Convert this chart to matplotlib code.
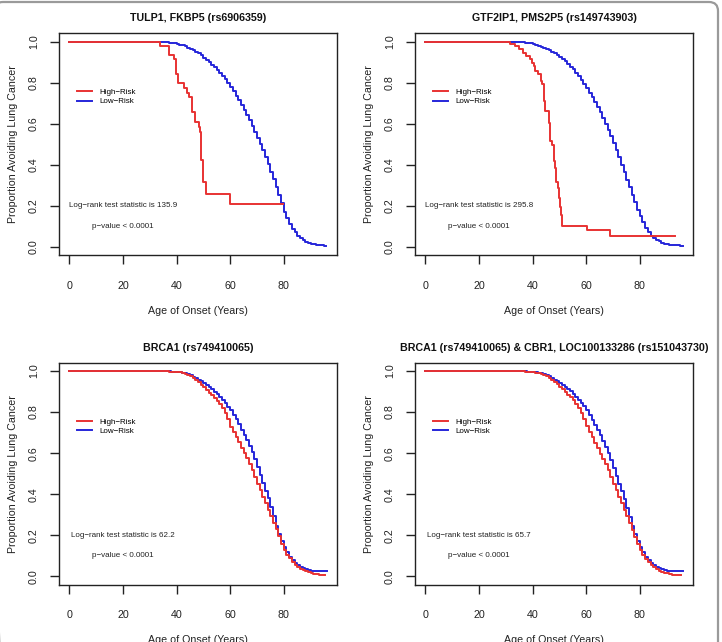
import matplotlib
matplotlib.use("Agg")
import matplotlib.pyplot as plt
from matplotlib.lines import Line2D
from matplotlib.patches import FancyBboxPatch

plt.rcParams['font.family'] = ['Liberation Sans', 'DejaVu Sans']

# ---------------- data ----------------
titles = [
    "TULP1, FKBP5 (rs6906359)",
    "GTF2IP1, PMS2P5 (rs149743903)",
    "BRCA1 (rs749410065)",
    "BRCA1 (rs749410065) & CBR1, LOC100133286 (rs151043730)",
]
logrank_stats = ["135.9", "295.8", "62.2", "65.7"]
series_labels = ["High\u2212Risk", "Low\u2212Risk"]
x_ticks = [0, 20, 40, 60, 80]
y_ticks = [0.0, 0.2, 0.4, 0.6, 0.8, 1.0]
y_ticklabels = ["0.0", "0.2", "0.4", "0.6", "0.8", "1.0"]

ages = list(range(35, 96))  # yearly ages for the large (smooth-looking) groups

# Panel 1 high-risk (step times / survival)
p1_high_t = [0, 34, 37, 38.9, 39.8, 40.6, 42.7, 43.75, 44.6, 45.7, 46.7, 48.2, 48.8, 49.1, 50, 50.8, 60]
p1_high_s = [1.0, 0.979, 0.933, 0.917, 0.844, 0.800, 0.775, 0.751, 0.731, 0.658, 0.609, 0.583, 0.559,
             0.425, 0.319, 0.259, 0.208]
p1_high_end = 79.6
p1_low_s = [0.998, 0.997, 0.995, 0.993, 0.991, 0.988, 0.985, 0.981, 0.976, 0.970,
            0.964, 0.957, 0.950, 0.942, 0.933, 0.922, 0.911, 0.899, 0.887, 0.875,
            0.862, 0.848, 0.832, 0.816, 0.798, 0.780, 0.758, 0.737, 0.715, 0.692,
            0.668, 0.643, 0.617, 0.590, 0.562, 0.533, 0.503, 0.470, 0.437, 0.403,
            0.367, 0.330, 0.292, 0.253, 0.213, 0.172, 0.140, 0.112, 0.090, 0.071,
            0.056, 0.044, 0.035, 0.027, 0.021, 0.017, 0.014, 0.012, 0.011, 0.010,
            0.006]
p1_low_end = 95.8

# Panel 2
p2_high_t = [0, 31.6, 33.5, 34.8, 36.6, 37.6, 39.1, 39.75, 40.4, 41.0, 42.2, 43.1, 43.5, 44.1, 44.7,
             46.0, 46.6, 47.2, 47.85, 48.5, 48.85, 49.35, 49.7, 50.1, 50.5, 50.9, 60.3, 68.8]
p2_high_s = [1.0, 0.990, 0.979, 0.963, 0.946, 0.930, 0.914, 0.897, 0.881, 0.857, 0.840, 0.808, 0.792,
             0.710, 0.661, 0.604, 0.515, 0.498, 0.417, 0.384, 0.319, 0.287, 0.238, 0.197, 0.156,
             0.103, 0.083, 0.055]
p2_high_end = 93.1
p2_low_s = [0.998, 0.997, 0.995, 0.994, 0.992, 0.989, 0.985, 0.980, 0.975, 0.969,
            0.963, 0.957, 0.951, 0.944, 0.935, 0.926, 0.915, 0.903, 0.892, 0.878,
            0.864, 0.848, 0.831, 0.813, 0.793, 0.773, 0.752, 0.730, 0.707, 0.683,
            0.658, 0.630, 0.601, 0.570, 0.539, 0.506, 0.472, 0.437, 0.401, 0.365,
            0.328, 0.291, 0.255, 0.218, 0.182, 0.150, 0.120, 0.094, 0.073, 0.056,
            0.044, 0.035, 0.028, 0.021, 0.016, 0.013, 0.011, 0.010, 0.009, 0.008,
            0.006]
p2_low_end = 96.0

# Panel 3
p3_high_s = [0.999, 0.998, 0.997, 0.996, 0.995, 0.994, 0.993, 0.990, 0.986, 0.981,
             0.974, 0.966, 0.956, 0.945, 0.933, 0.920, 0.908, 0.895, 0.882, 0.868,
             0.855, 0.838, 0.818, 0.796, 0.766, 0.728, 0.703, 0.678, 0.652, 0.625,
             0.600, 0.574, 0.548, 0.517, 0.485, 0.452, 0.420, 0.388, 0.357, 0.325,
             0.294, 0.262, 0.230, 0.195, 0.160, 0.130, 0.106, 0.088, 0.072, 0.058,
             0.046, 0.038, 0.031, 0.026, 0.021, 0.017, 0.013, 0.010, 0.006, 0.005,
             0.005]
p3_high_end = 95.5
p3_low_s = [0.999, 0.999, 0.998, 0.997, 0.996, 0.995, 0.993, 0.991, 0.988, 0.984,
            0.978, 0.972, 0.965, 0.958, 0.950, 0.940, 0.930, 0.920, 0.910, 0.898,
            0.886, 0.872, 0.858, 0.842, 0.826, 0.808, 0.788, 0.765, 0.740, 0.713,
            0.688, 0.662, 0.636, 0.605, 0.570, 0.533, 0.495, 0.456, 0.418, 0.380,
            0.338, 0.292, 0.246, 0.205, 0.172, 0.143, 0.117, 0.095, 0.078, 0.064,
            0.054, 0.046, 0.040, 0.034, 0.030, 0.026, 0.026, 0.026, 0.026, 0.026,
            0.026]
p3_low_end = 96.0

# Panel 4
p4_high_s = [0.999, 0.998, 0.997, 0.996, 0.995, 0.994, 0.992, 0.989, 0.985, 0.980,
             0.974, 0.966, 0.957, 0.947, 0.935, 0.923, 0.910, 0.897, 0.884, 0.871,
             0.857, 0.840, 0.820, 0.795, 0.766, 0.733, 0.705, 0.678, 0.651, 0.624,
             0.598, 0.572, 0.546, 0.516, 0.484, 0.452, 0.420, 0.388, 0.357, 0.325,
             0.292, 0.259, 0.226, 0.192, 0.159, 0.130, 0.104, 0.085, 0.070, 0.057,
             0.045, 0.036, 0.029, 0.024, 0.019, 0.015, 0.012, 0.009, 0.006, 0.005,
             0.005]
p4_high_end = 95.5
p4_low_s = [0.999, 0.999, 0.998, 0.997, 0.996, 0.995, 0.993, 0.991, 0.988, 0.984,
            0.979, 0.973, 0.966, 0.958, 0.950, 0.941, 0.932, 0.922, 0.911, 0.900,
            0.888, 0.874, 0.860, 0.845, 0.828, 0.808, 0.786, 0.762, 0.737, 0.712,
            0.686, 0.659, 0.632, 0.600, 0.565, 0.528, 0.490, 0.452, 0.414, 0.375,
            0.335, 0.290, 0.245, 0.205, 0.172, 0.143, 0.117, 0.095, 0.078, 0.064,
            0.054, 0.046, 0.040, 0.034, 0.030, 0.026, 0.026, 0.026, 0.026, 0.026,
            0.026]
p4_low_end = 96.0

panels = [
    (p1_high_t, p1_high_s, p1_high_end, [0] + ages, [1.0] + p1_low_s, p1_low_end),
    (p2_high_t, p2_high_s, p2_high_end, [0] + ages, [1.0] + p2_low_s, p2_low_end),
    ([0] + ages, [1.0] + p3_high_s, p3_high_end, [0] + ages, [1.0] + p3_low_s, p3_low_end),
    ([0] + ages, [1.0] + p4_high_s, p4_high_end, [0] + ages, [1.0] + p4_low_s, p4_low_end),
]

# ---------------- style ----------------
RED = "#e83232"
BLUE = "#2626d9"
W, H = 722, 642
fig = plt.figure(figsize=(W / 100, H / 100), dpi=100)

# background frame (rounded journal border, left and bottom edges off-canvas)
bg = fig.add_axes([0, 0, 1, 1])
bg.set_xlim(0, W)
bg.set_ylim(0, H)
bg.axis("off")
bg.add_patch(FancyBboxPatch((2, -32), 708, 664,
                            boxstyle="round,pad=8,rounding_size=9",
                            fill=False, edgecolor="#9a9a9a", lw=1.6))

lefts = [59, 415, 59, 415]
tops = [33.3, 33.3, 362.7, 362.7]
aw, ah = 278, 222

for i, (ht, hs, hend, lt, ls, lend) in enumerate(panels):
    l, t = lefts[i], tops[i]
    ax = fig.add_axes([l / W, 1 - (t + ah) / H, aw / W, ah / H])
    ax.step(ht + [hend], hs + [hs[-1]], where="post", color=RED, lw=1.4, zorder=3)
    ax.step(lt + [lend], ls + [ls[-1]], where="post", color=BLUE, lw=1.4, zorder=2)
    ax.set_xlim(-3.84, 99.84)
    ax.set_ylim(-0.04, 1.04)
    ax.set_xticks(x_ticks)
    ax.set_yticks(y_ticks)
    ax.set_yticklabels(y_ticklabels, rotation=90, va="center")
    ax.tick_params(axis="both", direction="out", length=6.5, width=1.0,
                   labelsize=7.7, colors="#222222")
    ax.tick_params(axis="x", pad=12)
    ax.tick_params(axis="y", pad=8)
    for sp in ax.spines.values():
        sp.set_color("#222222")
        sp.set_linewidth(1.0)
    ax.set_title(titles[i], fontsize=7.7, fontweight="bold", pad=8.5, color="#111111")
    ax.set_xlabel("Age of Onset (Years)", fontsize=7.7, labelpad=10.5, color="#222222")
    ax.set_ylabel("Proportion Avoiding Lung Cancer", fontsize=7.7, labelpad=8, color="#222222")
    ax.text(20, 0.2, "Log\u2212rank test statistic is " + logrank_stats[i],
            ha="center", va="center", fontsize=5.8, color="#222222")
    ax.text(20, 0.1, "p\u2212value < 0.0001", ha="center", va="center",
            fontsize=5.8, color="#222222")
    handles = [Line2D([], [], color=RED, lw=1.4), Line2D([], [], color=BLUE, lw=1.4)]
    ax.legend(handles, series_labels, loc="center left", bbox_to_anchor=(3.0, 0.73),
              bbox_transform=ax.transData, frameon=False, fontsize=5.8,
              handlelength=1.8, handletextpad=0.9, labelspacing=0.2,
              borderpad=0, borderaxespad=0)

fig.savefig("out.png", dpi=100)
